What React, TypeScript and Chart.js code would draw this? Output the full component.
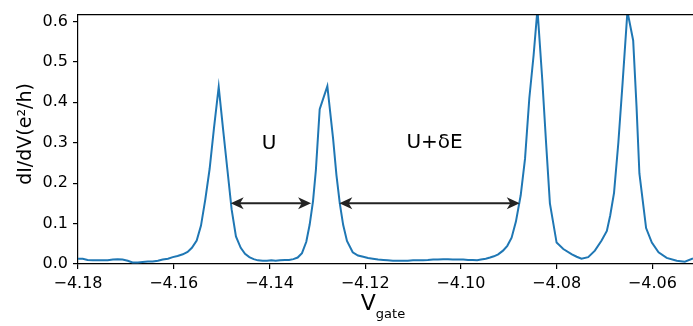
import React, { useEffect, useRef } from 'react';
import { Chart, registerables } from 'chart.js';

Chart.register(...registerables);

const vgate = [
  -4.1800, -4.1790, -4.1780, -4.1769, -4.1759, -4.1748, -4.1738, -4.1727, -4.1717, -4.1707,
  -4.1696, -4.1686, -4.1675, -4.1665, -4.1654, -4.1644, -4.1633, -4.1623, -4.1612, -4.1602,
  -4.1592, -4.1581, -4.1571, -4.1562, -4.1552, -4.1543, -4.1534, -4.1525, -4.1516, -4.1506,
  -4.1497, -4.1488, -4.1479, -4.1470, -4.1460, -4.1451, -4.1442, -4.1433, -4.1424, -4.1414,
  -4.1405, -4.1396, -4.1387, -4.1378, -4.1368, -4.1359, -4.1350, -4.1341, -4.1332, -4.1323,
  -4.1316, -4.1309, -4.1303, -4.1295, -4.1279, -4.1267, -4.1260, -4.1253, -4.1246, -4.1238,
  -4.1226, -4.1215, -4.1204, -4.1194, -4.1184, -4.1173, -4.1162, -4.1153, -4.1142, -4.1132,
  -4.1121, -4.1111, -4.1100, -4.1090, -4.1079, -4.1069, -4.1058, -4.1048, -4.1037, -4.1027,
  -4.1017, -4.1006, -4.0995, -4.0985, -4.0975, -4.0966, -4.0958, -4.0948, -4.0939, -4.0931,
  -4.0922, -4.0912, -4.0903, -4.0894, -4.0885, -4.0875, -4.0866, -4.0857, -4.0848, -4.0840,
  -4.0830, -4.0822, -4.0814, -4.0800, -4.0786, -4.0768, -4.0758, -4.0748, -4.0734, -4.0720,
  -4.0706, -4.0695, -4.0688, -4.0680, -4.0671, -4.0662, -4.0652, -4.0640, -4.0633, -4.0627,
  -4.0613, -4.0601, -4.0587, -4.0570, -4.0549, -4.0532, -4.0515,
];

const didv = [
  0.013, 0.013, 0.010, 0.009, 0.009, 0.009, 0.009, 0.011, 0.012, 0.011,
  0.008, 0.004, 0.004, 0.005, 0.006, 0.006, 0.008, 0.011, 0.013, 0.017,
  0.020, 0.024, 0.030, 0.040, 0.058, 0.095, 0.160, 0.235, 0.335, 0.438,
  0.335, 0.235, 0.135, 0.068, 0.040, 0.025, 0.017, 0.012, 0.009, 0.008,
  0.008, 0.009, 0.008, 0.009, 0.010, 0.010, 0.012, 0.016, 0.027, 0.055,
  0.097, 0.155, 0.232, 0.383, 0.440, 0.310, 0.220, 0.150, 0.097, 0.057,
  0.029, 0.021, 0.018, 0.015, 0.013, 0.011, 0.010, 0.009, 0.008, 0.008,
  0.008, 0.008, 0.009, 0.009, 0.0095, 0.010, 0.011, 0.011, 0.012, 0.012,
  0.011, 0.011, 0.011, 0.010, 0.010, 0.0095, 0.011, 0.013, 0.016, 0.019,
  0.024, 0.033, 0.045, 0.065, 0.105, 0.170, 0.260, 0.410, 0.517, 0.630,
  0.457, 0.300, 0.150, 0.053, 0.037, 0.024, 0.018, 0.013, 0.017, 0.033,
  0.058, 0.082, 0.120, 0.176, 0.300, 0.450, 0.625, 0.553, 0.390, 0.224,
  0.089, 0.053, 0.029, 0.015, 0.008, 0.0055, 0.0136,
];

const xTickValues = [-4.18, -4.16, -4.14, -4.12, -4.1, -4.08, -4.06];
const yTickValues = [0, 0.1, 0.2, 0.3, 0.4, 0.5, 0.6];
const xMin = -4.18;
const xMax = -4.0515;
const yMin = 0;
const yMax = 0.617;

const yTitle = 'dI/dV(e\u00B2/h)';
const xTitleMain = 'V';
const xTitleSub = 'gate';

const arrowFrom = [-4.1481, -4.1254];
const arrowTo = [-4.1313, -4.0877];
const arrowLevel = [0.15, 0.15];

const noteText = ['U', 'U+\u03B4E'];
const noteX = [-4.1401, -4.1055];
const noteY = [0.297, 0.300];

const FONT = "'DejaVu Sans', sans-serif";

function drawHead(ctx: CanvasRenderingContext2D, x: number, y: number, dir: number) {
  const L = 13;
  const W = 6;
  ctx.beginPath();
  ctx.moveTo(x, y);
  ctx.lineTo(x - dir * L, y - W);
  ctx.lineTo(x - dir * L * 0.72, y);
  ctx.lineTo(x - dir * L, y + W);
  ctx.closePath();
  ctx.fill();
}

const decoPlugin = {
  id: 'deco',
  afterDraw(chart: any) {
    const ctx: CanvasRenderingContext2D = chart.ctx;
    const { left, right, top } = chart.chartArea;
    const xs = chart.scales.x;
    const ys = chart.scales.y;
    ctx.save();
    // top spine
    ctx.strokeStyle = '#000';
    ctx.lineWidth = 1.2;
    ctx.beginPath();
    ctx.moveTo(left, top);
    ctx.lineTo(right, top);
    ctx.stroke();

    // arrows
    ctx.strokeStyle = '#222';
    ctx.fillStyle = '#222';
    ctx.lineWidth = 2;
    for (let i = 0; i < arrowFrom.length; i++) {
      const x1 = xs.getPixelForValue(arrowFrom[i]);
      const x2 = xs.getPixelForValue(arrowTo[i]);
      const y = ys.getPixelForValue(arrowLevel[i]);
      ctx.beginPath();
      ctx.moveTo(x1 + 8, y);
      ctx.lineTo(x2 - 8, y);
      ctx.stroke();
      drawHead(ctx, x1, y, -1);
      drawHead(ctx, x2, y, 1);
    }

    // notes
    ctx.fillStyle = '#000';
    ctx.font = `20px ${FONT}`;
    ctx.textAlign = 'center';
    ctx.textBaseline = 'middle';
    for (let i = 0; i < noteText.length; i++) {
      ctx.fillText(noteText[i], xs.getPixelForValue(noteX[i]), ys.getPixelForValue(noteY[i]));
    }

    // y title
    ctx.save();
    ctx.translate(26, 134);
    ctx.rotate(-Math.PI / 2);
    ctx.font = `19px ${FONT}`;
    ctx.textAlign = 'center';
    ctx.textBaseline = 'middle';
    ctx.fillText(yTitle, 0, 0);
    ctx.restore();

    // x title with subscript
    ctx.textAlign = 'left';
    ctx.textBaseline = 'alphabetic';
    ctx.font = `22px ${FONT}`;
    const wMain = ctx.measureText(xTitleMain).width;
    ctx.font = `13px ${FONT}`;
    const wSub = ctx.measureText(xTitleSub).width;
    const cx = 383;
    const startX = cx - (wMain + wSub) / 2;
    ctx.font = `22px ${FONT}`;
    ctx.fillText(xTitleMain, startX, 310);
    ctx.font = `13px ${FONT}`;
    ctx.fillText(xTitleSub, startX + wMain, 318);
    ctx.restore();
  },
};

function fmtX(v: number) {
  const s = Math.abs(v).toFixed(2);
  return (v < 0 ? '\u2212' : '') + s;
}

export default function App() {
  const ref = useRef<HTMLCanvasElement | null>(null);
  useEffect(() => {
    if (!ref.current) return;
    Chart.defaults.font.family = FONT;
    const chart = new Chart(ref.current, {
      type: 'line',
      data: {
        datasets: [
          {
            data: vgate.map((v, i) => ({ x: v, y: didv[i] })),
            borderColor: '#1f77b4',
            borderWidth: 2,
            pointRadius: 0,
            tension: 0,
            fill: false,
          },
        ],
      },
      options: {
        animation: false,
        responsive: false,
        devicePixelRatio: 1,
        layout: { padding: { top: 4, left: 0, right: 0, bottom: 0 } },
        plugins: { legend: { display: false }, tooltip: { enabled: false }, title: { display: false } },
        scales: {
          x: {
            type: 'linear',
            min: xMin,
            max: xMax,
            afterBuildTicks: (s: any) => {
              s.ticks = xTickValues.map((value) => ({ value }));
            },
            afterFit: (s: any) => {
              s.height = 62;
            },
            ticks: {
              callback: (v: any) => fmtX(Number(v)),
              font: { size: 16 },
              color: '#000',
              padding: 5,
              maxRotation: 0,
              autoSkip: false,
              includeBounds: false,
            },
            grid: { display: true, drawOnChartArea: false, drawTicks: true, tickLength: 5, color: '#000', lineWidth: 1.2 },
            border: { display: true, color: '#000', width: 1.2 },
          },
          y: {
            type: 'linear',
            min: yMin,
            max: yMax,
            afterBuildTicks: (s: any) => {
              s.ticks = yTickValues.map((value) => ({ value }));
            },
            afterFit: (s: any) => {
              s.width = 78;
            },
            ticks: {
              callback: (v: any) => Number(v).toFixed(1),
              font: { size: 16 },
              color: '#000',
              padding: 5,
              autoSkip: false,
              includeBounds: false,
            },
            grid: { display: true, drawOnChartArea: false, drawTicks: true, tickLength: 5, color: '#000', lineWidth: 1.2 },
            border: { display: true, color: '#000', width: 1.2 },
          },
        },
      },
      plugins: [decoPlugin],
    } as any);
    return () => chart.destroy();
  }, []);
  return (
    <div style={{ position: 'fixed', left: 0, top: 0, width: 693, height: 326, background: '#fff' }}>
      <canvas ref={ref} width={693} height={326} style={{ width: 693, height: 326, display: 'block' }} />
    </div>
  );
}
